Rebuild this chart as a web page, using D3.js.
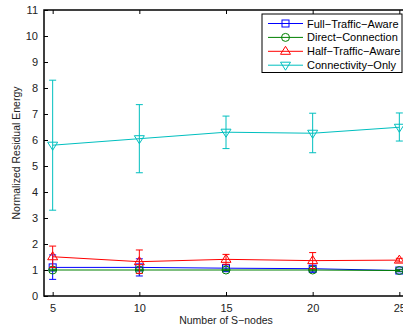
<!DOCTYPE html>
<html lang="en">
<head>
<meta charset="UTF-8">
<title>Normalized Residual Energy</title>
<script src="https://cdnjs.cloudflare.com/ajax/libs/d3/7.9.0/d3.min.js"></script>
<style>
  body { margin: 0; background: #fff; }
  text { font-family: "Liberation Sans", Arial, sans-serif; }
</style>
</head>
<body>
<svg id="chart" width="403" height="331"></svg>
<script>
// S-nodes on the x axis
const sNodes = [5, 10, 15, 20, 25];

// Full-Traffic-Aware
const fullMean = [1.10, 1.10, 1.07, 1.05, 0.98];
const fullLo   = [0.64, 0.77, 0.97, 0.92, 0.93];
const fullHi   = [1.58, 1.43, 1.20, 1.15, 1.03];

// Direct-Connection
const directMean = [1.00, 1.00, 1.00, 1.00, 0.98];
const directLo   = [0.97, 0.97, 0.97, 0.97, 0.95];
const directHi   = [1.03, 1.03, 1.03, 1.03, 1.01];

// Half-Traffic-Aware
const halfMean = [1.51, 1.32, 1.41, 1.36, 1.38];
const halfLo   = [1.10, 0.87, 1.22, 1.05, 1.31];
const halfHi   = [1.92, 1.77, 1.60, 1.67, 1.45];

// Connectivity-Only
const connMean = [5.80, 6.05, 6.30, 6.26, 6.49];
const connLo   = [3.30, 4.74, 5.67, 5.51, 5.96];
const connHi   = [8.30, 7.36, 6.92, 7.03, 7.04];

const yTicks = [0, 1, 2, 3, 4, 5, 6, 7, 8, 9, 10, 11];
const xTicks = [5, 10, 15, 20, 25];

const series = [
    { name: "Full\u2212Traffic\u2212Aware", mean: fullMean, lo: fullLo, hi: fullHi, color: "#0000ff", marker: "square" },
    { name: "Direct\u2212Connection", mean: directMean, lo: directLo, hi: directHi, color: "#008000", marker: "circle" },
    { name: "Half\u2212Traffic\u2212Aware", mean: halfMean, lo: halfLo, hi: halfHi, color: "#ff0000", marker: "up" },
    { name: "Connectivity\u2212Only", mean: connMean, lo: connLo, hi: connHi, color: "#00bfbf", marker: "down" }
];

const mLeft = 44, mRight = 408, mTop = 10, mBottom = 296;

const svg = d3.select("#chart");
svg.append("rect").attr("width", 403).attr("height", 331).attr("fill", "#fff");

const x = d3.scaleLinear().domain([4.5, 25.5]).range([mLeft, mRight]);
const y = d3.scaleLinear().domain([0, 11]).range([mBottom, mTop]);

// axes with inward ticks, MATLAB style
const gx = svg.append("g").attr("transform", `translate(0,${mBottom})`)
    .call(d3.axisBottom(x).tickValues(xTicks).tickSizeInner(-4).tickSizeOuter(0).tickPadding(8));
const gxTop = svg.append("g").attr("transform", `translate(0,${mTop})`)
    .call(d3.axisTop(x).tickValues(xTicks).tickSizeInner(-4).tickSizeOuter(0).tickFormat(""));
const gy = svg.append("g").attr("transform", `translate(${mLeft},0)`)
    .call(d3.axisLeft(y).tickValues(yTicks).tickSizeInner(-4).tickSizeOuter(0).tickPadding(6));

[gx, gxTop, gy].forEach(function (g) {
    g.select(".domain").remove();
    g.selectAll(".tick line").attr("stroke", "#000").attr("stroke-width", 1);
    g.selectAll(".tick text").attr("font-size", 11).attr("fill", "#222")
        .style("font-family", "Liberation Sans, Arial, sans-serif");
});

// frame
svg.append("rect")
    .attr("x", mLeft).attr("y", mTop)
    .attr("width", mRight - mLeft).attr("height", mBottom - mTop)
    .attr("fill", "none").attr("stroke", "#000").attr("stroke-width", 1.5);

function drawMarker(g, type, cx, cy, color) {
    const s = 4;
    if (type === "square") {
        g.append("rect").attr("x", cx - 3.5).attr("y", cy - 3.5).attr("width", 7).attr("height", 7)
            .attr("fill", "none").attr("stroke", color).attr("stroke-width", 1);
    } else if (type === "circle") {
        g.append("circle").attr("cx", cx).attr("cy", cy).attr("r", 4)
            .attr("fill", "none").attr("stroke", color).attr("stroke-width", 1);
    } else if (type === "up") {
        g.append("path").attr("d", `M${cx},${cy - s - 1}L${cx + s + 1},${cy + s - 1}L${cx - s - 1},${cy + s - 1}Z`)
            .attr("fill", "none").attr("stroke", color).attr("stroke-width", 1);
    } else {
        g.append("path").attr("d", `M${cx},${cy + s + 1}L${cx + s + 1},${cy - s + 1}L${cx - s - 1},${cy - s + 1}Z`)
            .attr("fill", "none").attr("stroke", color).attr("stroke-width", 1);
    }
}

const line = d3.line().x(d => x(d[0])).y(d => y(d[1]));

series.forEach(function (s) {
    const g = svg.append("g");
    // error bars
    sNodes.forEach(function (n, i) {
        const cx = x(n);
        g.append("line").attr("x1", cx).attr("x2", cx).attr("y1", y(s.lo[i])).attr("y2", y(s.hi[i]))
            .attr("stroke", s.color).attr("stroke-width", 1);
        [s.lo[i], s.hi[i]].forEach(function (v) {
            g.append("line").attr("x1", cx - 3.5).attr("x2", cx + 3.5).attr("y1", y(v)).attr("y2", y(v))
                .attr("stroke", s.color).attr("stroke-width", 1);
        });
    });
    g.append("path").datum(sNodes.map((n, i) => [n, s.mean[i]]))
        .attr("d", line).attr("fill", "none").attr("stroke", s.color).attr("stroke-width", 1);
    sNodes.forEach(function (n, i) {
        drawMarker(g, s.marker, x(n), y(s.mean[i]), s.color);
    });
});

// legend
const lg = svg.append("g");
lg.append("rect").attr("x", 262).attr("y", 14).attr("width", 140).attr("height", 58.5)
    .attr("fill", "#fff").attr("stroke", "#000").attr("stroke-width", 1);
series.forEach(function (s, i) {
    const ly = 23.5 + i * 13.9;
    lg.append("line").attr("x1", 268).attr("x2", 303).attr("y1", ly).attr("y2", ly)
        .attr("stroke", s.color).attr("stroke-width", 1);
    drawMarker(lg, s.marker, 285.5, ly, s.color);
    lg.append("text").attr("x", 307).attr("y", ly + 4).attr("font-size", 11).attr("fill", "#000")
        .text(s.name);
});

// axis labels
svg.append("text").attr("x", 226).attr("y", 324).attr("text-anchor", "middle")
    .attr("font-size", 10.5).attr("fill", "#222").text("Number of S\u2212nodes");
svg.append("text").attr("transform", `translate(20,${(mTop + mBottom) / 2}) rotate(-90)`)
    .attr("text-anchor", "middle").attr("font-size", 10.5).attr("fill", "#222")
    .text("Normalized Residual Energy");
</script>
</body>
</html>
